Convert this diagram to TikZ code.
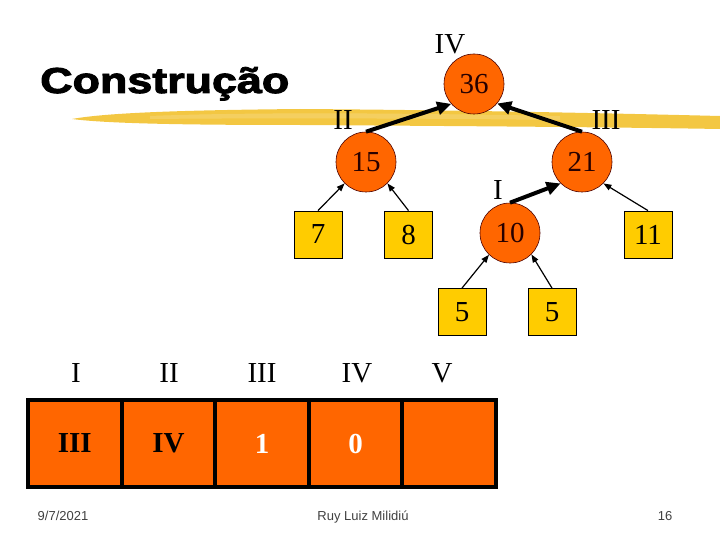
\documentclass[tikz,border=0pt]{standalone}
\usepackage{fontspec}
\setmainfont{Liberation Serif}
\newfontfamily\titlefont[FakeBold=2.5]{Liberation Sans Bold}
\newfontfamily\footfont{Liberation Sans}
\usetikzlibrary{arrows.meta}
\definecolor{heaporange}{HTML}{FF6600}
\definecolor{leafyellow}{HTML}{FFCC00}
\definecolor{brushyellow}{HTML}{F2C12E}
\definecolor{footgrey}{HTML}{404040}
\tikzset{
  circnode/.style={circle, fill=heaporange, draw=black!70!red, line width=0.6pt, minimum size=60pt, inner sep=0pt, font=\fontsize{29}{29}\selectfont, text=black!85!red},
  leafnode/.style={rectangle, fill=leafyellow, draw=black, line width=0.8pt, minimum width=48pt, minimum height=47pt, inner sep=0pt, font=\fontsize{29}{29}\selectfont},
  roman/.style={font=\fontsize{29}{29}\selectfont, inner sep=0pt},
  bigarrow/.style={line width=4pt, -{Triangle[length=14pt,width=13pt]}},
  smallarrow/.style={line width=1.2pt, -{Triangle[length=8pt,width=6pt]}},
  cellbox/.style={rectangle, fill=heaporange, draw=black, line width=4pt, minimum width=93.6pt, minimum height=87pt, inner sep=0pt, font=\bfseries\fontsize{29}{29}\selectfont},
  footer/.style={font=\footfont\fontsize{13}{13}\selectfont, text=footgrey, inner sep=0pt, anchor=base}
}
\begin{document}
\begin{tikzpicture}[x=1pt,y=-1pt]
\useasboundingbox (0,0) rectangle (720,540);
% brush stroke
\fill[brushyellow, opacity=0.9] (72,119) .. controls (110,112) and (200,110) .. (300,109)
  .. controls (450,110) and (600,113) .. (720,116) -- (720,129)
  .. controls (600,127) and (450,126) .. (300,125)
  .. controls (200,125) and (110,124) .. (72,119) -- cycle;
\fill[brushyellow!70!white, opacity=0.7] (150,116) .. controls (250,112) and (400,113) .. (560,116) -- (560,120) .. controls (400,118) and (250,118) .. (150,119) -- cycle;
% title
\node[inner sep=0pt, anchor=base west, xscale=1.245] (title) at (40,93) {\titlefont\fontsize{36}{36}\selectfont Construção};
% tree
\node[circnode] (n36) at (474,84) {36};
\node[circnode] (n15) at (366,162) {15};
\node[circnode] (n21) at (582,162) {21};
\node[circnode] (n10) at (510,233) {10};
\node[leafnode] (l7) at (318,234.5) {7};
\node[leafnode] (l8) at (408.5,234.5) {8};
\node[leafnode] (l11) at (648,234.5) {11};
\node[leafnode] (l5a) at (462,312) {5};
\node[leafnode] (l5b) at (552,312) {5};
\node[roman] (rIV) at (450,44) {IV};
\node[roman] (rII) at (343,120) {II};
\node[roman] (rIII) at (606,120) {III};
\node[roman] (rI) at (498,190) {I};
\draw[bigarrow] (n15.north) -- (n36.221);
\draw[bigarrow] (n21.north) -- (n36.320);
\draw[bigarrow] (n10.north) -- (n21.225);
\draw[smallarrow] (l7.north) -- (n15.225);
\draw[smallarrow] (l8.north) -- (n15.315);
\draw[smallarrow] (l11.north) -- (n21.315);
\draw[smallarrow] (l5a.north) -- (n10.226);
\draw[smallarrow] (l5b.north) -- (n10.315);
% array
\node[cellbox] (c1) at (74.8,443.5) {III};
\node[cellbox] (c2) at (168.4,443.5) {IV};
\node[cellbox, text=white] (c3) at (262,443.5) {1};
\node[cellbox, text=white] (c4) at (355.6,443.5) {0};
\node[cellbox] (c5) at (449.2,443.5) {};
\node[roman] (a1) at (76,373) {I};
\node[roman] (a2) at (169,373) {II};
\node[roman] (a3) at (262,373) {III};
\node[roman] (a4) at (357,373) {IV};
\node[roman] (a5) at (442,373) {V};
% footer
\node[footer] (date) at (63,520) {9/7/2021};
\node[footer] (author) at (363,520) {Ruy Luiz Milidiú};
\node[footer] (page) at (665,520) {16};
\end{tikzpicture}
\end{document}
